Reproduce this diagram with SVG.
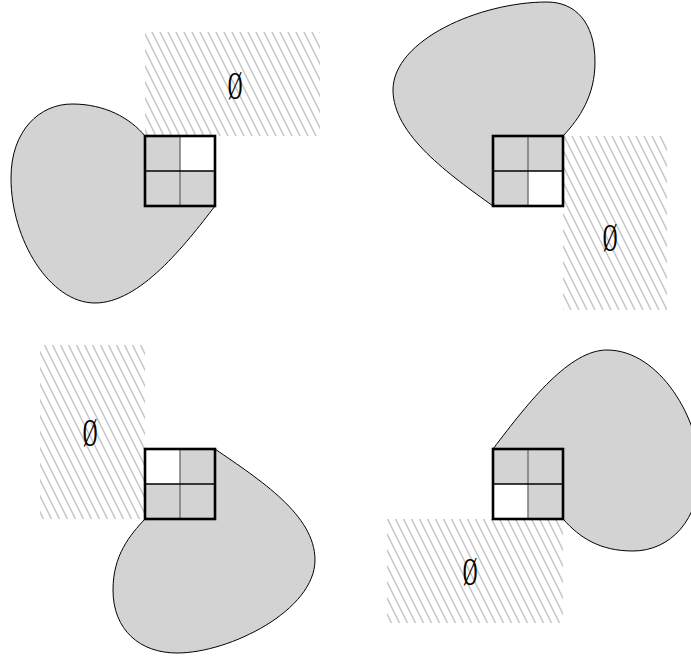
<svg xmlns="http://www.w3.org/2000/svg" width="691" height="659" viewBox="0 0 691 659">
<defs>
<pattern id="hatch" patternUnits="userSpaceOnUse" width="8" height="16">
<path d="M-8,0 L0,16 M0,0 L8,16 M8,0 L16,16" stroke="#c8c8c8" stroke-width="1.6" fill="none"/>
</pattern>
</defs>
<style>
.blob{fill:#d3d3d3;stroke:#000;stroke-width:1}
.hatch{fill:url(#hatch);stroke:none}
.cell{fill:#d3d3d3;stroke:none}
.white{fill:#fff;stroke:none}
.vdiv{stroke:#707070;stroke-width:1.4}
.hdiv{stroke:#000;stroke-width:1.3}
.frame{fill:none;stroke:#000;stroke-width:2.6}
.empty{font-family:"Liberation Serif",serif;font-size:30px;fill:#000;text-anchor:middle}
</style>

<g id="panel1">
<rect class="hatch" x="145" y="32" width="175" height="104"/>
<path class="blob" d="M215,206 C185,245 140,303 95,303 C50,303 11,240 11,178 C11,130 40,104 72,104 C105,104 130,118 145,136 Z"/>
<rect class="cell" x="145" y="136" width="70" height="70"/>
<rect class="white" x="180" y="136" width="35" height="35"/>
<line class="vdiv" x1="180" y1="136" x2="180" y2="206"/>
<line class="hdiv" x1="145" y1="171" x2="215" y2="171"/>
<rect class="frame" x="145" y="136" width="70" height="70"/>
<text class="empty" transform="translate(235,99) scale(0.68,1.3)">Ø</text>
</g>

<g id="panel2">
<rect class="hatch" x="563" y="136" width="104" height="174"/>
<path class="blob" d="M563,136 C580,118 595,95 595,62 C595,22 575,2 547,2 C480,2 393,40 393,90 C393,135 450,175 493,206 Z"/>
<rect class="cell" x="493" y="136" width="70" height="70"/>
<rect class="white" x="528" y="171" width="35" height="35"/>
<line class="vdiv" x1="528" y1="136" x2="528" y2="206"/>
<line class="hdiv" x1="493" y1="171" x2="563" y2="171"/>
<rect class="frame" x="493" y="136" width="70" height="70"/>
<text class="empty" transform="translate(610,251) scale(0.68,1.3)">Ø</text>
</g>

<g id="panel3">
<rect class="hatch" x="40" y="345" width="105" height="174"/>
<path class="blob" d="M215,449 C260,480 315,515 315,560 C315,610 230,653 177,653 C140,653 113,630 113,590 C113,555 130,535 145,519 Z"/>
<rect class="cell" x="145" y="449" width="70" height="70"/>
<rect class="white" x="145" y="449" width="35" height="35"/>
<line class="vdiv" x1="180" y1="449" x2="180" y2="519"/>
<line class="hdiv" x1="145" y1="484" x2="215" y2="484"/>
<rect class="frame" x="145" y="449" width="70" height="70"/>
<text class="empty" transform="translate(90,446) scale(0.68,1.3)">Ø</text>
</g>

<g id="panel4">
<rect class="hatch" x="387" y="519" width="176" height="104"/>
<path class="blob" d="M493,449 C530,400 570,350 607,350 C660,350 700,420 700,470 C700,520 670,551 633,551 C600,551 580,538 563,519 Z"/>
<rect class="cell" x="493" y="449" width="70" height="70"/>
<rect class="white" x="493" y="484" width="35" height="35"/>
<line class="vdiv" x1="528" y1="449" x2="528" y2="519"/>
<line class="hdiv" x1="493" y1="484" x2="563" y2="484"/>
<rect class="frame" x="493" y="449" width="70" height="70"/>
<text class="empty" transform="translate(470,585) scale(0.68,1.3)">Ø</text>
</g>

<g id="connectors"></g>
</svg>
